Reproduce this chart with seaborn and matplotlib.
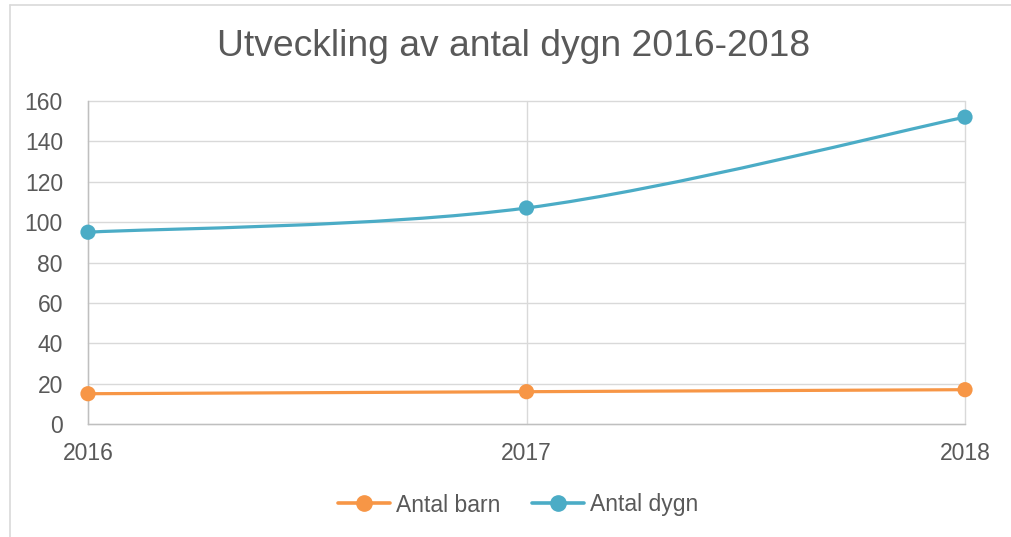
import numpy as np
import pandas as pd
import matplotlib
matplotlib.use('Agg')
import matplotlib.pyplot as plt
import seaborn as sns
from matplotlib.path import Path
from matplotlib.patches import PathPatch
from matplotlib.lines import Line2D

# Data
years = [2016, 2017, 2018]
antal_barn = [15, 16, 17]
antal_dygn = [95, 107, 152]

series_names = ['Antal barn', 'Antal dygn']
colors = {'Antal barn': '#F79646', 'Antal dygn': '#4BACC6'}

df = pd.DataFrame({
    'År': years * 2,
    'Värde': antal_barn + antal_dygn,
    'Serie': ['Antal barn'] * len(years) + ['Antal dygn'] * len(years),
})

sns.set_theme(style='white')
plt.rcParams['font.family'] = ['Liberation Sans', 'DejaVu Sans']

text_col = '#595959'
grid_col = '#D9D9D9'

fig = plt.figure(figsize=(10.11, 5.37), dpi=100)
ax = fig.add_axes([88 / 1011, 1 - 424 / 537, (965 - 88) / 1011, (424 - 101) / 537])


def smooth_path(x, y):
    # Excel-style smoothed line: cubic Bezier through each pair of points
    pts = np.column_stack([x, y]).astype(float)
    n = len(pts)
    verts = [pts[0]]
    codes = [Path.MOVETO]
    for i in range(n - 1):
        p0 = pts[i - 1] if i > 0 else pts[i]
        p1 = pts[i]
        p2 = pts[i + 1]
        p3 = pts[i + 2] if i + 2 < n else pts[i + 1]
        c1 = p1 + (p2 - p0) / 6
        c2 = p2 - (p3 - p1) / 6
        verts += [c1, c2, p2]
        codes += [Path.CURVE4] * 3
    return Path(verts, codes)


for name in series_names:
    sub = df[df['Serie'] == name]
    patch = PathPatch(smooth_path(sub['År'].values, sub['Värde'].values),
                      facecolor='none', edgecolor=colors[name], lw=2.3,
                      capstyle='round', zorder=3, clip_on=False)
    ax.add_patch(patch)

sns.scatterplot(data=df, x='År', y='Värde', hue='Serie', palette=colors,
                s=120, edgecolor='none', ax=ax, legend=False, zorder=4,
                clip_on=False)

ax.set_xlim(2016, 2018)
ax.set_ylim(0, 160)
ax.set_xticks(years)
ax.set_xticklabels([str(y) for y in years])
ax.set_yticks(range(0, 161, 20))
ax.set_xlabel('')
ax.set_ylabel('')

ax.grid(True, color=grid_col, lw=1)
ax.set_axisbelow(True)
for gl in ax.get_xgridlines() + ax.get_ygridlines():
    gl.set_clip_on(False)
for side in ['top', 'right']:
    ax.spines[side].set_visible(False)
for side in ['left', 'bottom']:
    ax.spines[side].set_color('#BFBFBF')
    ax.spines[side].set_linewidth(1)

ax.tick_params(axis='y', labelsize=16.5, colors=text_col, pad=18, length=0)
ax.tick_params(axis='x', labelsize=16.5, colors=text_col, pad=13, length=0)

fig.text(514 / 1011, 1 - 47 / 537, 'Utveckling av antal dygn 2016-2018', ha='center',
         va='center', fontsize=26.8, color=text_col)

handles = [Line2D([0], [0], color=colors[n], lw=2.6, marker='o', markersize=11)
           for n in series_names]
leg = fig.legend(handles, series_names, loc='center',
                 bbox_to_anchor=(518 / 1011, 1 - 505 / 537),
                 ncol=2, frameon=False, fontsize=16.5, handlelength=2.3,
                 columnspacing=1.35, handletextpad=0.25)
for t in leg.get_texts():
    t.set_color(text_col)

# chart border (left and top edges visible)
fig.add_artist(Line2D([9.5 / 1011, 9.5 / 1011], [0, 1 - 4.5 / 537], color=grid_col,
                      lw=1.2, transform=fig.transFigure))
fig.add_artist(Line2D([9.5 / 1011, 1], [1 - 4.5 / 537, 1 - 4.5 / 537], color=grid_col,
                      lw=1.2, transform=fig.transFigure))

fig.savefig('out.png', dpi=100)
